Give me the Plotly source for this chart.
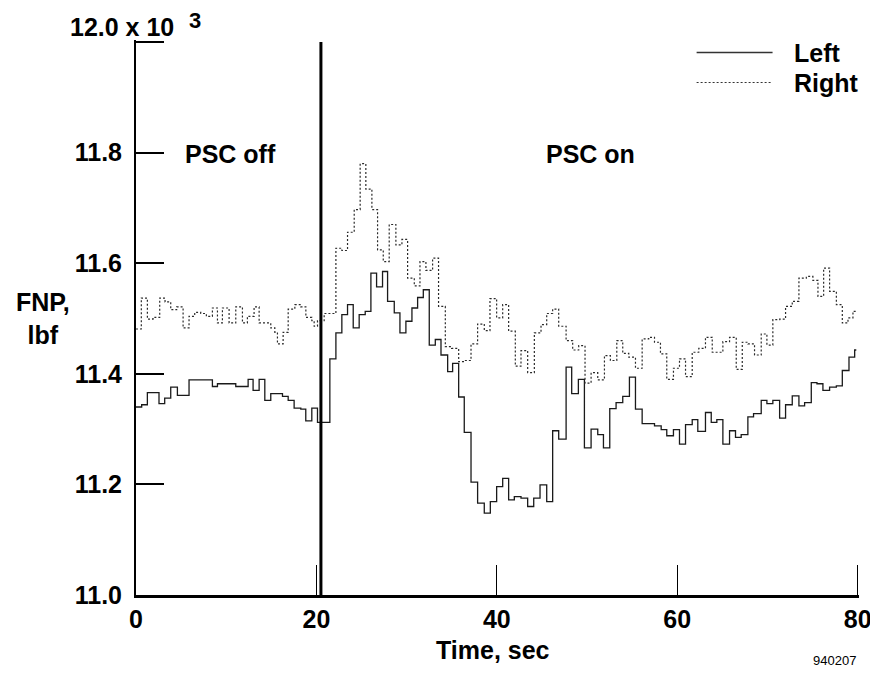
import plotly.graph_objects as go

# ---- data (step changes: time [s], value [10^3 lbf]) ----
left_t = [0.0, 0.63, 1.26, 2.55, 3.18, 3.85, 4.59, 5.88, 8.47, 9.03, 11.06, 12.43, 12.98,
          13.65, 14.28, 14.94, 16.24, 16.87, 17.53, 18.27, 18.82, 19.49, 20.12, 21.49,
          22.16, 22.82, 23.45, 24.08, 24.74, 25.41, 26.04, 26.67, 27.33, 27.89, 28.63,
          29.26, 29.92, 30.59, 31.22, 31.85, 32.51, 33.18, 33.81, 34.55, 35.10, 35.77,
          36.39, 37.14, 37.87, 38.61, 39.28, 39.98, 40.65, 41.31, 41.94, 42.68, 43.42,
          44.09, 44.79, 45.53, 46.19, 46.86, 47.68, 48.30, 49.04, 49.71, 50.45, 51.19,
          51.82, 52.52, 53.22, 53.96, 54.70, 55.37, 56.11, 57.48, 58.22, 58.84, 59.58,
          60.25, 60.92, 61.66, 62.28, 63.13, 63.77, 64.39, 65.06, 65.80, 66.46, 67.09,
          67.83, 68.46, 69.31, 69.94, 70.60, 71.35, 72.01, 72.75, 73.49, 74.12, 74.86,
          75.49, 76.15, 76.89, 77.64, 78.30, 79.04, 79.67, 79.85]
left_v = [11.340, 11.344, 11.366, 11.346, 11.356, 11.376, 11.361, 11.389, 11.377, 11.382,
          11.377, 11.390, 11.370, 11.390, 11.352, 11.364, 11.359, 11.352, 11.338, 11.336,
          11.315, 11.338, 11.312, 11.427, 11.474, 11.507, 11.525, 11.483, 11.507, 11.513,
          11.582, 11.557, 11.585, 11.531, 11.510, 11.474, 11.495, 11.519, 11.538, 11.552,
          11.452, 11.462, 11.434, 11.404, 11.419, 11.358, 11.294, 11.204, 11.166, 11.148,
          11.169, 11.196, 11.211, 11.172, 11.178, 11.175, 11.160, 11.175, 11.199, 11.169,
          11.297, 11.282, 11.412, 11.364, 11.390, 11.266, 11.300, 11.290, 11.266, 11.337,
          11.348, 11.359, 11.394, 11.336, 11.310, 11.306, 11.299, 11.288, 11.299, 11.273,
          11.308, 11.317, 11.296, 11.330, 11.312, 11.317, 11.273, 11.297, 11.285, 11.290,
          11.322, 11.328, 11.352, 11.346, 11.352, 11.320, 11.344, 11.360, 11.342, 11.348,
          11.384, 11.382, 11.370, 11.376, 11.378, 11.406, 11.430, 11.443, 11.443]

right_t = [0.0, 0.59, 1.26, 1.89, 2.63, 3.22, 3.85, 4.51, 5.22, 5.88, 6.51, 7.18, 7.80,
           8.47, 9.03, 9.58, 10.32, 11.06, 11.80, 12.35, 13.09, 13.65, 14.94, 15.39,
           15.68, 16.31, 16.87, 17.61, 18.27, 18.83, 19.49, 19.75, 20.12, 20.86, 22.16,
           22.82, 23.45, 24.19, 24.85, 25.48, 26.15, 26.78, 27.41, 28.07, 28.81, 29.48,
           30.11, 30.85, 31.48, 32.14, 32.88, 33.54, 34.29, 34.99, 35.77, 36.39, 37.14,
           37.87, 38.61, 39.24, 39.98, 40.65, 41.31, 42.05, 42.68, 43.42, 44.16, 44.90,
           45.53, 46.19, 46.86, 47.68, 48.41, 49.08, 49.78, 50.45, 51.19, 51.93, 52.59,
           53.30, 53.96, 54.63, 55.37, 56.11, 56.84, 57.48, 58.14, 58.84, 59.58, 60.25,
           60.92, 61.66, 62.39, 63.13, 63.88, 65.06, 65.80, 66.54, 67.21, 67.83, 68.57,
           69.31, 69.94, 70.60, 71.35, 72.01, 72.75, 73.49, 74.31, 75.04, 75.60, 76.23,
           76.89, 77.64, 78.30, 78.93, 79.48, 79.85]
right_v = [11.481, 11.537, 11.499, 11.502, 11.537, 11.530, 11.516, 11.521, 11.483, 11.504,
           11.511, 11.509, 11.504, 11.519, 11.492, 11.519, 11.492, 11.521, 11.492, 11.504,
           11.521, 11.492, 11.483, 11.475, 11.454, 11.475, 11.517, 11.525, 11.521, 11.502,
           11.496, 11.486, 11.496, 11.509, 11.627, 11.623, 11.656, 11.697, 11.780, 11.734,
           11.697, 11.624, 11.603, 11.670, 11.633, 11.643, 11.573, 11.559, 11.603, 11.587,
           11.609, 11.522, 11.449, 11.446, 11.422, 11.424, 11.454, 11.490, 11.478, 11.536,
           11.501, 11.525, 11.477, 11.414, 11.442, 11.402, 11.474, 11.489, 11.509, 11.517,
           11.486, 11.460, 11.443, 11.451, 11.383, 11.402, 11.389, 11.433, 11.424, 11.460,
           11.437, 11.430, 11.410, 11.463, 11.466, 11.457, 11.436, 11.390, 11.410, 11.427,
           11.395, 11.439, 11.446, 11.466, 11.439, 11.458, 11.466, 11.408, 11.457, 11.454,
           11.434, 11.472, 11.452, 11.498, 11.499, 11.522, 11.531, 11.573, 11.576, 11.569,
           11.540, 11.591, 11.549, 11.525, 11.492, 11.501, 11.513, 11.513]

psc_on_time = 20.5
x_ticks = [0, 20, 40, 60, 80]
y_ticks = [11.0, 11.2, 11.4, 11.6, 11.8, 12.0]
y_ticktext = ["11.0", "11.2", "11.4", "11.6", "11.8", ""]
x_range = [0, 80.15]
y_range = [11.0, 12.0036]

FONT = "Liberation Sans, Arial, sans-serif"
BOLD = dict(family=FONT, size=25, color="black", weight="bold")

# page layout (the page body adds an 8px margin at top/left of the figure)
PAGE_OFF = 8
FIG_W, FIG_H = 878 - PAGE_OFF, 675 - 2 * PAGE_OFF
L, R, T, B = 136, 859.5, 40, 595           # plot area in page pixels
W, H = R - L, B - T
def px(xp): return (xp - L) / W
def py(yp): return (B - yp) / H

fig = go.Figure()
fig.add_trace(go.Scatter(x=left_t, y=left_v, mode="lines", name="Left",
                         line=dict(color="#1a1a1a", width=1.3, shape="hv")))
fig.add_trace(go.Scatter(x=right_t, y=right_v, mode="lines", name="Right",
                         line=dict(color="#2a2a2a", width=1.2, shape="hv", dash="2px,2px")))

# PSC switch line
fig.add_shape(type="line", xref="x", yref="y", x0=psc_on_time, x1=psc_on_time,
              y0=11.0, y1=12.0, line=dict(color="black", width=3))

# manual legend
fig.add_shape(type="line", xref="paper", yref="paper", x0=px(697), x1=px(773),
              y0=py(52.5), y1=py(52.5), line=dict(color="#333", width=1.5))
fig.add_shape(type="line", xref="paper", yref="paper", x0=px(697), x1=px(773),
              y0=py(82.5), y1=py(82.5), line=dict(color="#333", width=1.2, dash="2px,2px"))

ann = [
    dict(text="Left", x=px(792), y=py(53), xanchor="left", yanchor="middle"),
    dict(text="Right", x=px(792), y=py(83), xanchor="left", yanchor="middle"),
    dict(text="Time, sec", x=px(493), y=py(650), xanchor="center", yanchor="middle"),
    dict(text="FNP,<br>lbf", x=px(43), y=py(318), xanchor="center", yanchor="middle"),
    dict(text="12.0 x 10", x=px(176), y=py(27), xanchor="right", yanchor="middle"),
]
for a in ann:
    fig.add_annotation(xref="paper", yref="paper", showarrow=False, font=BOLD, **a)
fig.add_annotation(xref="paper", yref="paper", showarrow=False, text="3",
                   x=px(187), y=py(21), xanchor="left", yanchor="middle",
                   font=dict(family=FONT, size=22, color="black", weight="bold"))
fig.add_annotation(xref="x", yref="y", showarrow=False, text="PSC off", x=10.5, y=11.797,
                   xanchor="center", yanchor="middle", font=BOLD)
fig.add_annotation(xref="x", yref="y", showarrow=False, text="PSC on", x=50.4, y=11.797,
                   xanchor="center", yanchor="middle", font=BOLD)
fig.add_annotation(xref="paper", yref="paper", showarrow=False, text="940207",
                   x=px(858), y=py(660), xanchor="right", yanchor="middle",
                   font=dict(family=FONT, size=13, color="black"))

fig.update_layout(
    width=FIG_W, height=FIG_H, autosize=False,
    margin=dict(l=L - PAGE_OFF, r=FIG_W - (R - PAGE_OFF), t=T - PAGE_OFF,
                b=FIG_H - (B - PAGE_OFF), pad=0),
    paper_bgcolor="white", plot_bgcolor="white",
    showlegend=False,
    xaxis=dict(range=x_range, tickvals=x_ticks, ticks="inside", ticklen=30,
               tickwidth=1.2, tickcolor="black", showline=True, linewidth=2.5,
               linecolor="black", showgrid=False, zeroline=False, automargin=False,
               tickfont=BOLD, ticklabelstandoff=0, ticklabeloverflow="allow"),
    yaxis=dict(range=y_range, tickvals=y_ticks, ticktext=y_ticktext,
               ticks="inside", ticklen=28, tickwidth=1.5, tickcolor="black",
               showline=True, linewidth=2, linecolor="black", showgrid=False,
               zeroline=False, automargin=False, tickfont=BOLD, ticklabelstandoff=7,
               ticklabeloverflow="allow"),
)

fig.write_html("out.html")
